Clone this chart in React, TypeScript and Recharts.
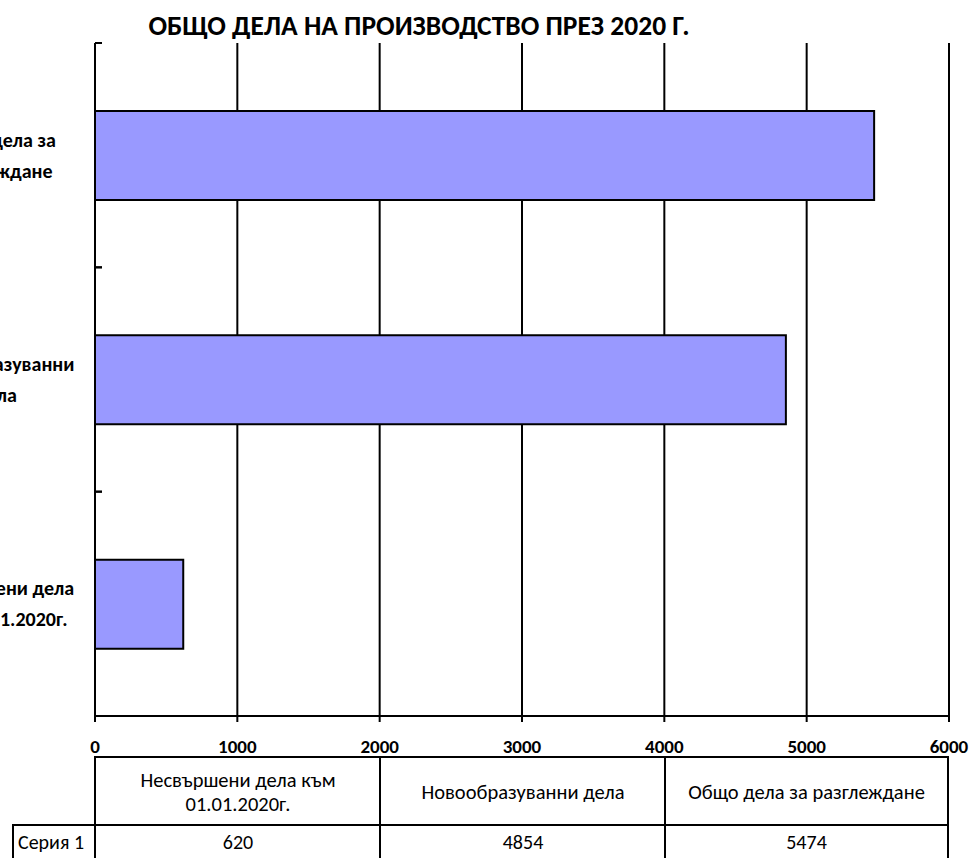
import { BarChart, Bar, XAxis, YAxis, CartesianGrid } from "recharts";

const title = "ОБЩО ДЕЛА НА ПРОИЗВОДСТВО ПРЕЗ 2020 Г.";
const categories = [
  "Несвършени дела към 01.01.2020г.",
  "Новообразуванни дела",
  "Общо дела за разглеждане",
];
// how the labels wrap on the value axis
const categoryLines = [
  ["Несвършени дела", "към 01.01.2020г."],
  ["Новообразуванни", "дела"],
  ["Общо дела за", "разглеждане"],
];
// how the labels wrap in the data table
const headerLines = [
  ["Несвършени дела към", "01.01.2020г."],
  ["Новообразуванни дела"],
  ["Общо дела за разглеждане"],
];
const seriesName = "Серия 1";
const seriesValues = [620, 4854, 5474];
const xTicks = [0, 1000, 2000, 3000, 4000, 5000, 6000];

const FONT = "Carlito, Calibri, Lato, 'Open Sans', sans-serif";

const data = categories.map((name, i) => ({ name, value: seriesValues[i] }));

function CategoryTick(props: any) {
  const { x, y, payload, index } = props;
  const lines = categoryLines[index] || [payload.value];
  const off = payload.offset || 0;
  return (
    <g>
      <line x1={x} x2={x + 7} y1={y - off} y2={y - off} stroke="#000" strokeWidth={2} />
      <line x1={x} x2={x + 7} y1={y + off} y2={y + off} stroke="#000" strokeWidth={2} />
      {lines.map((l: string, i: number) => (
        <text
          key={i}
          x={-4}
          y={y + (i - (lines.length - 1) / 2) * 31}
          dy={7}
          textAnchor="middle"
          fontFamily={FONT}
          fontWeight="bold"
          fontSize={20}
          fill="#000"
        >
          {l}
        </text>
      ))}
    </g>
  );
}

function ValueTick(props: any) {
  const { x, y, payload } = props;
  return (
    <text
      x={x}
      y={y + 29}
      textAnchor="middle"
      fontFamily={FONT}
      fontWeight="bold"
      fontSize={19}
      fill="#000"
    >
      {payload.value}
    </text>
  );
}

const cellBorder = "2px solid #000";

export default function App() {
  const plotLeft = 95;
  const colW = 285;
  return (
    <div
      style={{
        position: "absolute",
        left: 0,
        top: 0,
        width: 974,
        height: 858,
        overflow: "hidden",
        background: "#fff",
        fontFamily: FONT,
      }}
    >
      <div
        style={{
          position: "absolute",
          left: 19,
          width: 800,
          top: 9,
          textAlign: "center",
          fontWeight: "bold",
          fontSize: 27.5,
          lineHeight: "34px",
        }}
      >
        {title}
      </div>
      <BarChart
        width={974}
        height={858}
        data={data}
        layout="vertical"
        margin={{ top: 43, right: 25, bottom: 102, left: 0 }}
        barSize={89}
      >
        <CartesianGrid horizontal={false} stroke="#000" strokeWidth={2} />
        <XAxis
          type="number"
          domain={[0, 6000]}
          ticks={xTicks}
          interval={0}
          height={40}
          axisLine={{ stroke: "#000", strokeWidth: 2 }}
          tickLine={{ stroke: "#000", strokeWidth: 2 }}
          tickSize={6}
          tick={<ValueTick />}
        />
        <XAxis
          xAxisId="top"
          orientation="top"
          type="number"
          domain={[0, 6000]}
          height={0}
          tick={false}
          tickLine={false}
          axisLine={{ stroke: "#000", strokeWidth: 2 }}
        />
        <YAxis
          type="category"
          dataKey="name"
          reversed
          width={95}
          interval={0}
          tickSize={0}
          tickMargin={0}
          tickLine={false}
          axisLine={{ stroke: "#000", strokeWidth: 2 }}
          tick={<CategoryTick />}
        />
        <Bar
          dataKey="value"
          fill="#9999FF"
          stroke="#000"
          strokeWidth={2}
          isAnimationActive={false}
        />
      </BarChart>

      {/* data table */}
      {headerLines.map((lines, i) => (
        <div
          key={"h" + i}
          style={{
            position: "absolute",
            left: plotLeft + i * colW - 1,
            top: 756,
            width: colW - (i === 2 ? 1 : 0) + 1,
            height: 70,
            boxSizing: "border-box",
            borderTop: cellBorder,
            borderLeft: cellBorder,
            borderRight: i === 2 ? cellBorder : undefined,
            display: "flex",
            flexDirection: "column",
            alignItems: "center",
            justifyContent: "center",
            fontSize: 20.5,
            lineHeight: "24px",
            color: "#000",
          }}
        >
          {lines.map((l, j) => (
            <div key={j}>{l}</div>
          ))}
        </div>
      ))}
      <div
        style={{
          position: "absolute",
          left: 12,
          top: 824,
          width: plotLeft - 13,
          height: 40,
          boxSizing: "border-box",
          borderTop: cellBorder,
          borderLeft: cellBorder,
          paddingLeft: 4,
          paddingTop: 4,
          fontSize: 20,
          lineHeight: "24px",
          color: "#000",
        }}
      >
        {seriesName}
      </div>
      {seriesValues.map((v, i) => (
        <div
          key={"v" + i}
          style={{
            position: "absolute",
            left: plotLeft + i * colW - 1,
            top: 824,
            width: colW - (i === 2 ? 1 : 0) + 1,
            height: 40,
            boxSizing: "border-box",
            borderTop: cellBorder,
            borderLeft: cellBorder,
            borderRight: i === 2 ? cellBorder : undefined,
            textAlign: "center",
            paddingTop: 4,
            fontSize: 20,
            lineHeight: "24px",
            color: "#000",
          }}
        >
          {v}
        </div>
      ))}
    </div>
  );
}
